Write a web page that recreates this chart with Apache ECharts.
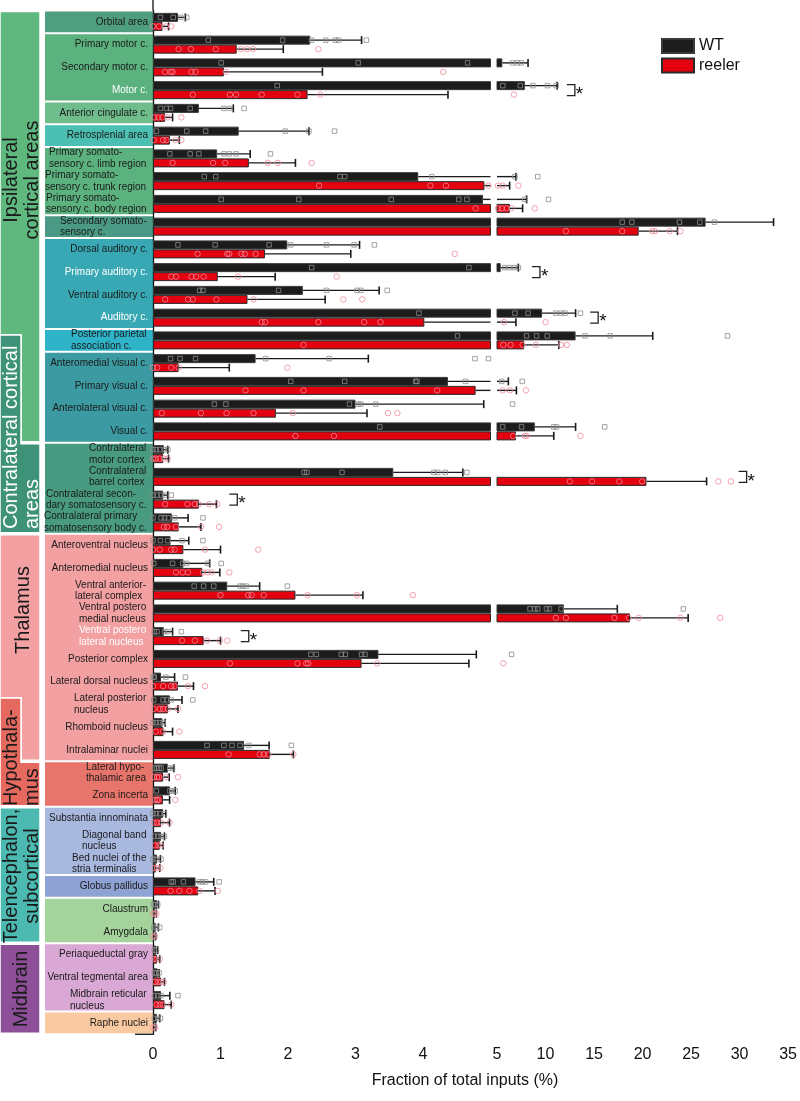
<!DOCTYPE html>
<html><head><meta charset="utf-8">
<script src="https://cdn.jsdelivr.net/npm/echarts@6.0.0/dist/echarts.min.js"></script>
<style>html,body{margin:0;padding:0;background:#fff}#c{width:800px;height:1101px}</style>
</head><body><div id="c"></div>
<script>
const categories = [
 'Orbital area','Primary motor c.','Secondary motor c.','Motor c.','Anterior cingulate c.','Retrosplenial area',
 'Primary somato-\nsensory c. limb region','Primary somato-\nsensory c. trunk region','Primary somato-\nsensory c. body region',
 'Secondary somato-\nsensory c.','Dorsal auditory c.','Primary auditory c.','Ventral auditory c.','Auditory c.',
 'Posterior parietal\nassociation c.','Anteromedial visual c.','Primary visual c.','Anterolateral visual c.','Visual c.',
 'Contralateral\nmotor cortex','Contralateral\nbarrel cortex','Contralateral secon-\ndary somatosensory c.','Contralateral primary\nsomatosensory body c.',
 'Anteroventral nucleus','Anteromedial nucleus','Ventral anterior-\nlateral complex','Ventral postero\nmedial nucleus','Ventral postero\nlateral nucleus',
 'Posterior complex','Lateral dorsal nucleus','Lateral posterior\nnucleus','Rhomboid nucleus','Intralaminar nuclei',
 'Lateral hypo-\nthalamic area','Zona incerta',
 'Substantia innominata','Diagonal band\nnucleus','Bed nuclei of the\nstria terminalis','Globus pallidus','Claustrum','Amygdala',
 'Periaqueductal gray','Ventral tegmental area','Midbrain reticular\nnucleus','Raphe nuclei'
];
const whiteLabels = ['Motor c.','Primary auditory c.','Auditory c.','Ventral postero\nlateral nucleus'];

const wtMean = [0.37,2.33,5.55,7.87,0.68,1.27,0.95,3.93,4.89,26.5,
 1.99,5.38,2.22,9.65,13.1,1.52,4.37,3.0,8.9,
 0.16,3.56,0.15,0.28,
 0.26,0.45,1.10,11.9,0.16,3.34,0.12,0.25,0.14,1.35,
 0.22,0.25,
 0.15,0.12,0.06,0.63,0.06,0.04,
 0.05,0.07,0.12,0.06];
const wtSd = [0.11,0.76,2.65,3.33,0.51,1.04,0.49,3.02,3.16,7.0,
 1.07,1.82,1.13,3.45,7.95,1.67,1.80,1.90,4.2,
 0.06,1.03,0.07,0.24,
 0.27,0.39,0.48,5.5,0.13,1.45,0.20,0.18,0.04,0.37,
 0.09,0.08,
 0.04,0.05,0.05,0.27,0.02,0.04,
 0.02,0.02,0.13,0.04];
const reelerMean = [0.14,1.24,1.05,2.29,0.18,0.25,1.42,4.91,6.33,19.6,
 1.66,0.96,1.40,4.02,7.8,0.38,4.78,1.82,6.95,
 0.15,20.4,0.68,0.38,
 0.45,0.73,2.11,18.7,0.75,3.09,0.37,0.22,0.155,1.73,
 0.15,0.146,
 0.12,0.10,0.04,0.67,0.03,0.02,
 0.06,0.12,0.17,0.02];
const reelerSd = [0.09,0.69,1.46,2.08,0.11,0.14,0.69,1.39,1.31,4.0,
 1.27,0.85,1.15,2.93,3.57,0.75,2.22,1.35,3.9,
 0.08,6.2,0.26,0.33,
 0.55,0.26,1.0,6.0,0.25,1.59,0.23,0.15,0.135,0.35,
 0.09,0.10,
 0.125,0.05,0.06,0.25,0.02,0.02,
 0.04,0.05,0.10,0.02];

const wtPoints = [
 [0.11,0.30,0.41,0.50],[0.82,1.92,2.35,2.56,2.70,2.75,3.16],[1.01,3.04,4.66,6.6,7.1,7.5],[1.84,5.6,7.4,8.7,10.2,11.1],
 [0.11,0.20,0.26,0.55,1.05,1.14,1.35],[0.05,0.50,0.78,1.96,2.31,2.69],[0.25,0.55,0.68,1.05,1.13,1.23,1.74],
 [0.76,0.93,2.77,2.84,4.13,6.85,9.2],[1.01,2.16,3.53,4.53,4.65,7.87,10.3],[17.9,18.9,23.8,25.9,27.4,35.4],
 [0.37,0.92,1.72,2.04,2.57,2.98,3.28],[2.35,4.68,5.8,6.3,6.8,7.2],[0.69,0.74,1.86,2.57,3.02,3.08,3.47],
 [3.94,6.85,8.2,11.06,11.6,12.0,13.6],[4.51,8.05,9.08,10.17,14.07,16.67,28.75],[0.26,0.40,0.63,1.67,2.61,4.77,4.97],
 [2.04,2.84,3.89,3.91,4.63,5.48,7.6],[0.91,1.08,2.91,3.04,3.08,3.30,6.6],[3.36,5.58,7.53,10.85,11.13,16.1],
 [0.0,0.05,0.10,0.17,0.22],[2.24,2.28,2.80,4.16,4.22,4.33,4.65],[0.0,0.06,0.12,0.17,0.27],[0.0,0.12,0.17,0.23,0.32,0.74],
 [0.0,0.11,0.22,0.43,0.74],[0.01,0.29,0.44,0.50,0.81,1.01],[0.61,0.75,0.90,1.29,1.33,1.38,1.99],[8.4,8.9,9.2,10.1,10.4,11.6,24.2],
 [0.02,0.06,0.17,0.22,0.42],[2.34,2.42,2.79,2.85,3.09,3.14,6.5],[0.0,0.02,0.19,0.48],[0.01,0.15,0.20,0.27,0.59],
 [0.0,0.05,0.10,0.15],[0.80,1.05,1.17,1.29,1.42,2.05],
 [0.02,0.06,0.09,0.12,0.25,0.29],[0.05,0.25,0.28,0.33],
 [0.0,0.05,0.10,0.17],[0.02,0.07,0.12,0.17],[0.0,0.05,0.12],[0.27,0.30,0.45,0.69,0.73,0.78,0.98],[0.01,0.04,0.07],[0.01,0.05,0.10],
 [0.02,0.05],[0.02,0.05,0.09],[0.02,0.07,0.12,0.37],[0.02,0.07,0.11]
];
const reelerPoints = [
 [0.0,0.09,0.19,0.27],[0.38,0.56,0.93,1.30,1.39,1.48,2.45],[0.18,0.26,0.29,0.57,0.63,1.08,4.30],[0.59,1.14,1.23,1.61,2.14,2.48,6.75],
 [0.02,0.08,0.14,0.22,0.42],[0.01,0.15,0.20,0.33,0.42],[0.29,0.89,1.07,1.70,1.85,2.35],
 [2.46,4.11,4.34,4.97,5.1,5.6,7.2],[4.78,5.1,5.5,6.0,6.5,8.9],[12.1,17.9,21.0,21.3,22.8,23.9],
 [0.66,1.10,1.13,1.31,1.36,1.52,4.47],[0.27,0.34,0.57,0.64,0.75,1.26,2.72],[0.18,0.52,0.59,0.94,1.49,2.82,3.10],
 [1.61,1.66,2.45,3.13,3.37,5.72,10.0],[2.23,5.65,6.4,7.64,9.0,11.6,12.2],[0.0,0.06,0.27,0.38,1.99],
 [1.37,2.23,4.21,5.58,6.33,7.98],[0.13,0.71,1.09,1.49,2.07,3.48,3.62],[2.11,2.68,6.67,7.87,8.05,13.6],
 [0.0,0.04,0.10,0.16,0.22],[12.5,14.8,17.6,19.96,27.8,29.1],[0.18,0.51,0.62,0.68,0.83,0.95],[0.16,0.21,0.34,0.71,0.98],
 [0.0,0.10,0.27,0.32,0.77,1.56],[0.34,0.44,0.52,0.74,0.81,0.87,1.13],[1.0,1.41,1.46,1.64,2.29,3.02,3.85],[11.06,12.1,17.1,18.6,19.6,23.9,28.0],
 [0.43,0.62,0.80,0.99,1.10],[1.14,2.14,2.27,2.30,3.32,5.65],[0.0,0.15,0.27,0.32,0.52,0.77],[0.01,0.10,0.15,0.22,0.37],
 [0.04,0.15,0.39],[1.12,1.58,1.64,1.71,2.08],
 [0.01,0.06,0.09,0.19,0.37],[0.03,0.06,0.08,0.33],
 [0.01,0.06,0.12,0.245],[0.03,0.08,0.12],[0.02,0.06,0.11],[0.26,0.39,0.54,0.69,0.96],[0.0,0.02,0.05],[0.0,0.03],
 [0.01,0.05,0.10],[0.03,0.08,0.12,0.16],[0.05,0.10,0.15,0.27],[0.0,0.03]
];

// significance brackets: category index and x position
const sigCats = [3, 11, 13, 20, 21, 27];
const sigX = [12.2, 8.6, 14.6, 29.9, 1.13, 1.30];

// axis break
const leftMin = 0, leftMax = 5, leftInterval = 1;
const rightMin = 5, rightMax = 35, rightInterval = 5;

// label boxes: [first category, last category, colour]
const innerGroups = [[0,0,'#4f9e80'],[1,3,'#5cb27e'],[4,4,'#6fbd8b'],[5,5,'#4bbfb2'],[6,8,'#5cb27e'],[9,9,'#4a9a85'],
 [10,13,'#38a9b4'],[14,14,'#2fb3c8'],[15,18,'#3c9ba2'],[19,22,'#489a80'],[23,32,'#f2a0a1'],[33,34,'#e8756b'],
 [35,37,'#a8b8df'],[38,38,'#8ea3d4'],[39,40,'#a4d39b'],[41,43,'#d9a8d4'],[44,44,'#f9caa1']];

const FONT = '"Liberation Sans", Arial, sans-serif';
const chart = echarts.init(document.getElementById('c'));

const mctx = document.createElement('canvas').getContext('2d');
mctx.font = '10px "Liberation Sans"';
const rich = {};
categories.forEach((c, i) => {
  const lines = c.split('\n');
  if (lines.length > 1) {
    const w = Math.ceil(Math.max(...lines.map(l => mctx.measureText(l).width))) + 1;
    rich['m' + i] = {width: w, align: 'left', fontSize: 10, fontFamily: FONT, lineHeight: 11.5,
      color: whiteLabels.includes(c) ? '#ffffff' : '#1a1a1a'};
  }
});

function splitPts(arr, right) {
  const out = [];
  arr.forEach((vals, i) => vals.forEach(v => { if (right ? v > leftMax : v <= leftMax) out.push([v, i]); }));
  return out;
}
function errRender(lo, hi, off) {
  return function (params, api) {
    const cat = api.value(0), m = api.value(1), e = api.value(2);
    if (e <= lo || m >= hi) return {type: 'group', children: []};
    const a = Math.max(m, lo), b = Math.min(e, hi);
    const pa = api.coord([a, cat]), pb = api.coord([b, cat]);
    const y = pa[1] + off;
    const ch = [{type: 'line', shape: {x1: pa[0], y1: y, x2: pb[0], y2: y}, style: {stroke: '#1a1a1a', lineWidth: 1.4}}];
    if (e <= hi) ch.push({type: 'line', shape: {x1: pb[0], y1: y - 4, x2: pb[0], y2: y + 4}, style: {stroke: '#1a1a1a', lineWidth: 1.6}});
    return {type: 'group', children: ch};
  };
}
function sigRender(params, api) {
  const p = api.coord([api.value(0), api.value(1)]);
  const x = p[0], c = p[1];
  return {type: 'group', children: [
    {type: 'polyline', shape: {points: [[x, c - 5.5], [x + 8, c - 5.5], [x + 8, c + 5.5], [x, c + 5.5]]},
     style: {stroke: '#222', lineWidth: 1.3, fill: null}},
    {type: 'text', style: {text: '*', x: x + 9, y: c - 5, font: '19px "Liberation Sans"', fill: '#111', align: 'left', verticalAlign: 'top'}}
  ]};
}

const errWT = wtMean.map((m, i) => [i, m, m + wtSd[i]]);
const errRe = reelerMean.map((m, i) => [i, m, m + reelerSd[i]]);
const sigL = [], sigR = [];
sigCats.forEach((c, k) => (sigX[k] <= leftMax ? sigL : sigR).push([sigX[k], c]));

const wtStyle = {color: '#1c1c1c', borderColor: '#3a3a3a', borderWidth: 1};
const reStyle = {color: '#e3000f', borderColor: '#2a2a2a', borderWidth: 1};
const wtPtStyle = {color: 'rgba(0,0,0,0)', borderColor: '#8c8c8c', borderWidth: 1};
const rePtStyle = {color: 'rgba(0,0,0,0)', borderColor: '#f08a98', borderWidth: 1};
const G = {top: 10.5, height: 1023.75};

const option = {
  animation: false,
  grid: [
    {left: 153, width: 337.5, ...G},
    {left: 497, width: 292, ...G},
    {left: 153, width: 337.5, ...G}
  ],
  legend: {data: ['WT', 'reeler'], orient: 'vertical', left: 661, top: 38, padding: 0, itemWidth: 32, itemHeight: 14, itemGap: 3.5,
    icon: 'rect', selectedMode: false, textStyle: {fontSize: 16, fontFamily: FONT, color: '#111'}},
  xAxis: [
    {type: 'value', gridIndex: 0, min: leftMin, max: leftMax, interval: leftInterval, splitLine: {show: false},
     axisLine: {lineStyle: {color: '#111', width: 1.3}}, axisTick: {length: 7, lineStyle: {color: '#111', width: 1.3}},
     axisLabel: {fontSize: 16, fontFamily: FONT, color: '#111', margin: 12, formatter: v => (v === leftMax ? '' : String(v))}},
    {type: 'value', gridIndex: 1, min: rightMin, max: rightMax, interval: rightInterval, splitLine: {show: false},
     axisLine: {lineStyle: {color: '#111', width: 1.3}}, axisTick: {length: 7, lineStyle: {color: '#111', width: 1.3}},
     axisLabel: {fontSize: 16, fontFamily: FONT, color: '#111', margin: 12}},
    {type: 'value', gridIndex: 2, min: leftMin, max: leftMax, show: false}
  ],
  yAxis: [
    {type: 'category', gridIndex: 0, data: categories, inverse: true,
     axisLine: {lineStyle: {color: '#111', width: 1.3}},
     axisTick: {length: 18, interval: 0, lineStyle: {color: '#111', width: 1.5}},
     axisLabel: {interval: 0, margin: 5, fontSize: 10, fontFamily: FONT, lineHeight: 11.5,
       color: v => (whiteLabels.includes(v) ? '#ffffff' : '#1a1a1a'),
       formatter: (v, i) => { const l = v.split('\n'); return l.length === 1 ? v : l.map(s => '{m' + i + '|' + s + '}').join('\n'); },
       rich: rich}},
    {type: 'category', gridIndex: 1, data: categories, inverse: true, show: false},
    {type: 'category', gridIndex: 2, data: categories, inverse: true,
     axisLine: {show: false}, axisLabel: {show: false},
     axisTick: {inside: true, length: 17, interval: 0, lineStyle: {color: '#6b6b6b', width: 2}}}
  ],
  series: [
    {type: 'bar', name: 'WT', xAxisIndex: 0, yAxisIndex: 0, data: wtMean, barWidth: 9, barGap: '0%', clip: true, itemStyle: wtStyle},
    {type: 'bar', name: 'reeler', xAxisIndex: 0, yAxisIndex: 0, data: reelerMean, barWidth: 9, barGap: '0%', clip: true, itemStyle: reStyle},
    {type: 'bar', name: 'WT', xAxisIndex: 1, yAxisIndex: 1, data: wtMean.map(v => (v > leftMax ? v : '-')), barWidth: 9, barGap: '0%', clip: true, itemStyle: wtStyle},
    {type: 'bar', name: 'reeler', xAxisIndex: 1, yAxisIndex: 1, data: reelerMean.map(v => (v > leftMax ? v : '-')), barWidth: 9, barGap: '0%', clip: true, itemStyle: reStyle},
    {type: 'custom', xAxisIndex: 0, yAxisIndex: 0, data: errWT, encode: {x: [1, 2], y: 0}, renderItem: errRender(leftMin, leftMax, -4.5), z: 3},
    {type: 'custom', xAxisIndex: 0, yAxisIndex: 0, data: errRe, encode: {x: [1, 2], y: 0}, renderItem: errRender(leftMin, leftMax, 4.5), z: 3},
    {type: 'custom', xAxisIndex: 1, yAxisIndex: 1, data: errWT, encode: {x: [1, 2], y: 0}, renderItem: errRender(rightMin, rightMax, -4.5), z: 3},
    {type: 'custom', xAxisIndex: 1, yAxisIndex: 1, data: errRe, encode: {x: [1, 2], y: 0}, renderItem: errRender(rightMin, rightMax, 4.5), z: 3},
    {type: 'scatter', name: 'WT pts', xAxisIndex: 0, yAxisIndex: 0, data: splitPts(wtPoints, false), symbol: 'rect', symbolSize: 4.5, symbolOffset: [0, -4.5], itemStyle: wtPtStyle, z: 4},
    {type: 'scatter', name: 'reeler pts', xAxisIndex: 0, yAxisIndex: 0, data: splitPts(reelerPoints, false), symbol: 'circle', symbolSize: 5.5, symbolOffset: [0, 4.5], itemStyle: rePtStyle, z: 4},
    {type: 'scatter', name: 'WT pts', xAxisIndex: 1, yAxisIndex: 1, data: splitPts(wtPoints, true), symbol: 'rect', symbolSize: 4.5, symbolOffset: [0, -4.5], itemStyle: wtPtStyle, z: 4},
    {type: 'scatter', name: 'reeler pts', xAxisIndex: 1, yAxisIndex: 1, data: splitPts(reelerPoints, true), symbol: 'circle', symbolSize: 5.5, symbolOffset: [0, 4.5], itemStyle: rePtStyle, z: 4},
    {type: 'custom', xAxisIndex: 0, yAxisIndex: 0, data: sigL, encode: {x: 0, y: 1}, renderItem: sigRender, z: 5},
    {type: 'custom', xAxisIndex: 1, yAxisIndex: 1, data: sigR, encode: {x: 0, y: 1}, renderItem: sigRender, z: 5}
  ]
};
chart.setOption(option);

// decorative label boxes positioned from the category axis
const cy = i => chart.convertToPixel({gridIndex: 0}, [0, i])[1];
const band = cy(1) - cy(0);
const tp = i => cy(i) - band / 2, bt = i => cy(i) + band / 2;
const gfx = [];
innerGroups.forEach(([a, b, col]) => {
  gfx.push({type: 'rect', z: -10, shape: {x: 45, y: tp(a) + 1, width: 108, height: bt(b) - tp(a) - 2}, style: {fill: col}});
});
const nY1 = tp(14) + 6, nY2 = tp(30) + 5;
const poly = (pts, col) => ({type: 'polygon', z: -10, shape: {points: pts}, style: {fill: col, stroke: '#fff', lineWidth: 1.5}});
gfx.push(poly([[0, tp(0) + 1], [40, tp(0) + 1], [40, bt(18) - 1], [21, bt(18) - 1], [21, nY1], [0, nY1]], '#5fb97f'));
gfx.push(poly([[0, nY1], [21, nY1], [21, tp(19) + 1], [40, tp(19) + 1], [40, bt(22) - 1], [0, bt(22) - 1]], '#3e9278'));
gfx.push(poly([[0, tp(23) + 1], [40, tp(23) + 1], [40, bt(32) - 1], [21, bt(32) - 1], [21, nY2], [0, nY2]], '#f2a0a1'));
gfx.push(poly([[0, nY2], [21, nY2], [21, tp(33) + 1], [40, tp(33) + 1], [40, bt(34) - 1], [0, bt(34) - 1]], '#e6695f'));
gfx.push(poly([[0, tp(35) + 1], [40, tp(35) + 1], [40, bt(40) - 1], [0, bt(40) - 1]], '#4cbab1'));
gfx.push(poly([[0, tp(41) + 1], [40, tp(41) + 1], [40, bt(44) - 1], [0, bt(44) - 1]], '#8d4f98'));
const rot = (text, x, y, align, fill) => ({type: 'text', z: 10, x: x, y: y, rotation: Math.PI / 2,
  style: {text: text, font: '20px "Liberation Sans"', fill: fill, align: align, verticalAlign: 'middle', lineHeight: 21}});
gfx.push(rot('Ipsilateral\ncortical areas', 22, 180, 'center', '#1a1a1a'));
gfx.push(rot('Contralateral cortical\nareas', 21.5, 529, 'left', '#ffffff'));
gfx.push(rot('Thalamus', 23, 610, 'center', '#1a1a1a'));
gfx.push(rot('Hypothala-\nmus', 21.5, 806, 'left', '#1a1a1a'));
gfx.push(rot('Telencephalon,\nsubcortical', 22, 876, 'center', '#1a1a1a'));
gfx.push(rot('Midbrain', 21, 989, 'center', '#1a1a1a'));
const yb = bt(44);
gfx.push({type: 'line', z: 10, shape: {x1: 135, y1: yb, x2: 153, y2: yb}, style: {stroke: '#111', lineWidth: 1.3}});
gfx.push({type: 'line', z: 10, shape: {x1: 153, y1: 0, x2: 153, y2: tp(0)}, style: {stroke: '#111', lineWidth: 1.3}});
gfx.push({type: 'text', z: 10, x: 465, y: 1081, style: {text: 'Fraction of total inputs (%)', font: '16px "Liberation Sans"', fill: '#111', align: 'center', verticalAlign: 'middle'}});
chart.setOption({graphic: gfx});
</script>
</body></html>
